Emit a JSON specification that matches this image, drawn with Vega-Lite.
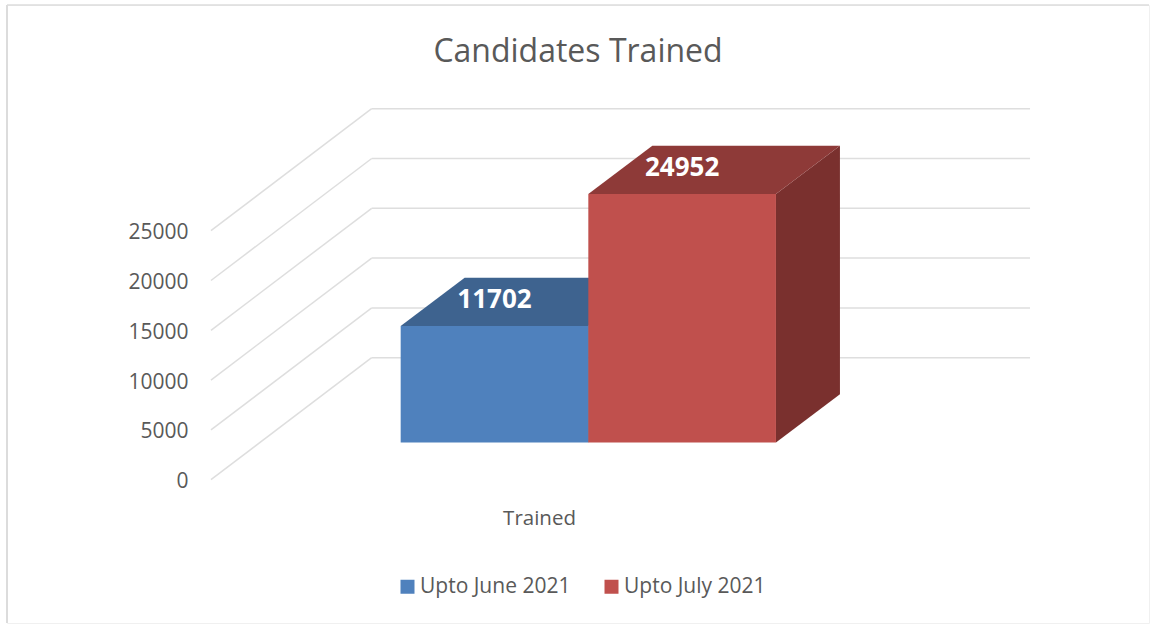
{"$schema":"https://vega.github.io/schema/vega-lite/v6.json","width":1142,"height":618,"autosize":{"type":"none"},"padding":{"left":7,"top":5,"right":1,"bottom":1},"background":"#ffffff","view":{"stroke":"#f0f0f0","strokeWidth":1},"title":{"text":"Candidates Trained","font":"Open Sans","fontSize":32,"fontWeight":"normal","color":"#595959","anchor":"middle","offset":-65},"datasets":{"bars":[{"series":"Upto June 2021","value":11702},{"series":"Upto July 2021","value":24952}],"ticks":[{"tick":0},{"tick":5000},{"tick":10000},{"tick":15000},{"tick":20000},{"tick":25000}],"cat":[{"category":"Trained"}]},"layer":[{"data":{"name":"ticks"},"transform":[{"calculate":"-1.011","as":"x0"},{"calculate":"-0.1545","as":"x1"},{"calculate":"datum.tick+12250","as":"yb"}],"mark":{"type":"rule","stroke":"#dedede","strokeWidth":1.5},"encoding":{"x":{"field":"x0","type":"quantitative","scale":{"domain":[-2.098,3.988],"nice":false,"zero":false},"axis":null},"x2":{"field":"x1"},"y":{"field":"tick","type":"quantitative","scale":{"domain":[-14388,47661],"nice":false,"zero":false},"axis":{"values":[0,5000,10000,15000,20000,25000],"title":null,"domain":false,"ticks":false,"grid":false,"offset":-181,"labelPadding":0,"labelOffset":2,"labelFont":"Open Sans","labelFontSize":21,"labelColor":"#595959","format":"d"}},"y2":{"field":"yb"}}},{"data":{"name":"ticks"},"transform":[{"calculate":"-0.1545","as":"x1"},{"calculate":"3.354","as":"x2"},{"calculate":"datum.tick+12250","as":"yb"}],"mark":{"type":"rule","stroke":"#dedede","strokeWidth":1.5},"encoding":{"x":{"field":"x1","type":"quantitative","scale":{"domain":[-2.098,3.988],"nice":false,"zero":false},"axis":null},"x2":{"field":"x2"},"y":{"field":"yb","type":"quantitative","scale":{"domain":[-14388,47661],"nice":false,"zero":false}}}},{"data":{"name":"bars"},"transform":[{"calculate":"indexof(['Upto June 2021','Upto July 2021'],datum.series)","as":"slot"},{"calculate":"[0,1]","as":"d"},{"flatten":["d"]},{"calculate":"datum.slot+1+datum.d*0.341","as":"xp"},{"calculate":"datum.value+3735+datum.d*4850","as":"yt"},{"calculate":"3735+datum.d*4850","as":"yf"}],"mark":{"type":"area","orient":"vertical"},"encoding":{"detail":{"field":"series"},"x":{"field":"xp","type":"quantitative","scale":{"domain":[-2.098,3.988],"nice":false,"zero":false},"axis":null},"y":{"field":"yt","type":"quantitative","stack":null,"scale":{"domain":[-14388,47661],"nice":false,"zero":false}},"y2":{"field":"yf"},"color":{"field":"series","type":"nominal","scale":{"domain":["Upto June 2021","Upto July 2021"],"range":["#34547a","#7a302e"]},"legend":null}}},{"data":{"name":"bars"},"transform":[{"calculate":"indexof(['Upto June 2021','Upto July 2021'],datum.series)","as":"slot"},{"calculate":"[0,1]","as":"d"},{"flatten":["d"]},{"calculate":"datum.slot+datum.d*0.341","as":"xa"},{"calculate":"datum.slot+1+datum.d*0.341","as":"xb"},{"calculate":"datum.value+3735+datum.d*4850","as":"yt"}],"mark":{"type":"area","orient":"horizontal"},"encoding":{"detail":{"field":"series"},"x":{"field":"xa","type":"quantitative","stack":null,"scale":{"domain":[-2.098,3.988],"nice":false,"zero":false},"axis":null},"x2":{"field":"xb"},"y":{"field":"yt","type":"quantitative","scale":{"domain":[-14388,47661],"nice":false,"zero":false}},"color":{"field":"series","type":"nominal","scale":{"domain":["Upto June 2021","Upto July 2021"],"range":["#3e638f","#8e3a38"]},"legend":null}}},{"data":{"name":"bars"},"transform":[{"calculate":"indexof(['Upto June 2021','Upto July 2021'],datum.series)","as":"slot"},{"calculate":"datum.slot+1","as":"xe"},{"calculate":"datum.value+3735","as":"yt"},{"calculate":"3735","as":"yf"}],"mark":{"type":"rect"},"encoding":{"x":{"field":"slot","type":"quantitative","scale":{"domain":[-2.098,3.988],"nice":false,"zero":false},"axis":null},"x2":{"field":"xe"},"y":{"field":"yt","type":"quantitative","scale":{"domain":[-14388,47661],"nice":false,"zero":false}},"y2":{"field":"yf"},"color":{"field":"series","type":"nominal","scale":{"domain":["Upto June 2021","Upto July 2021"],"range":["#4f81bd","#c0504d"]},"legend":{"orient":"none","legendX":390,"legendY":571,"direction":"horizontal","title":null,"symbolType":"square","symbolSize":196,"symbolStrokeWidth":0,"symbolOpacity":1,"labelFont":"Open Sans","labelFontSize":21,"labelColor":"#595959","labelOffset":2,"columnPadding":30,"labelLimit":300}}}},{"data":{"name":"bars"},"transform":[{"calculate":"indexof(['Upto June 2021','Upto July 2021'],datum.series)","as":"slot"},{"calculate":"datum.slot+0.5","as":"xc"},{"calculate":"datum.value+3735+2650","as":"yl"}],"mark":{"type":"text","font":"Open Sans","fontSize":26,"fontWeight":"bold","color":"#ffffff","align":"center","baseline":"middle"},"encoding":{"x":{"field":"xc","type":"quantitative","scale":{"domain":[-2.098,3.988],"nice":false,"zero":false},"axis":null},"y":{"field":"yl","type":"quantitative","scale":{"domain":[-14388,47661],"nice":false,"zero":false}},"text":{"field":"value","type":"quantitative","format":"d"}}},{"data":{"name":"cat"},"transform":[{"calculate":"0.74","as":"xc"},{"calculate":"-3900","as":"yl"}],"mark":{"type":"text","font":"Open Sans","fontSize":20.5,"color":"#595959","align":"center","baseline":"middle"},"encoding":{"x":{"field":"xc","type":"quantitative","scale":{"domain":[-2.098,3.988],"nice":false,"zero":false},"axis":null},"y":{"field":"yl","type":"quantitative","scale":{"domain":[-14388,47661],"nice":false,"zero":false}},"text":{"field":"category","type":"nominal"}}},{"data":{"values":[{"edge":-2.098}]},"mark":{"type":"rule","stroke":"#dcdcdc","strokeWidth":2},"encoding":{"x":{"field":"edge","type":"quantitative","scale":{"domain":[-2.098,3.988],"nice":false,"zero":false},"axis":null}}},{"data":{"values":[{"edge":47661}]},"mark":{"type":"rule","stroke":"#dcdcdc","strokeWidth":1.5},"encoding":{"y":{"field":"edge","type":"quantitative","scale":{"domain":[-14388,47661],"nice":false,"zero":false}}}}],"resolve":{"scale":{"color":"independent"}}}
